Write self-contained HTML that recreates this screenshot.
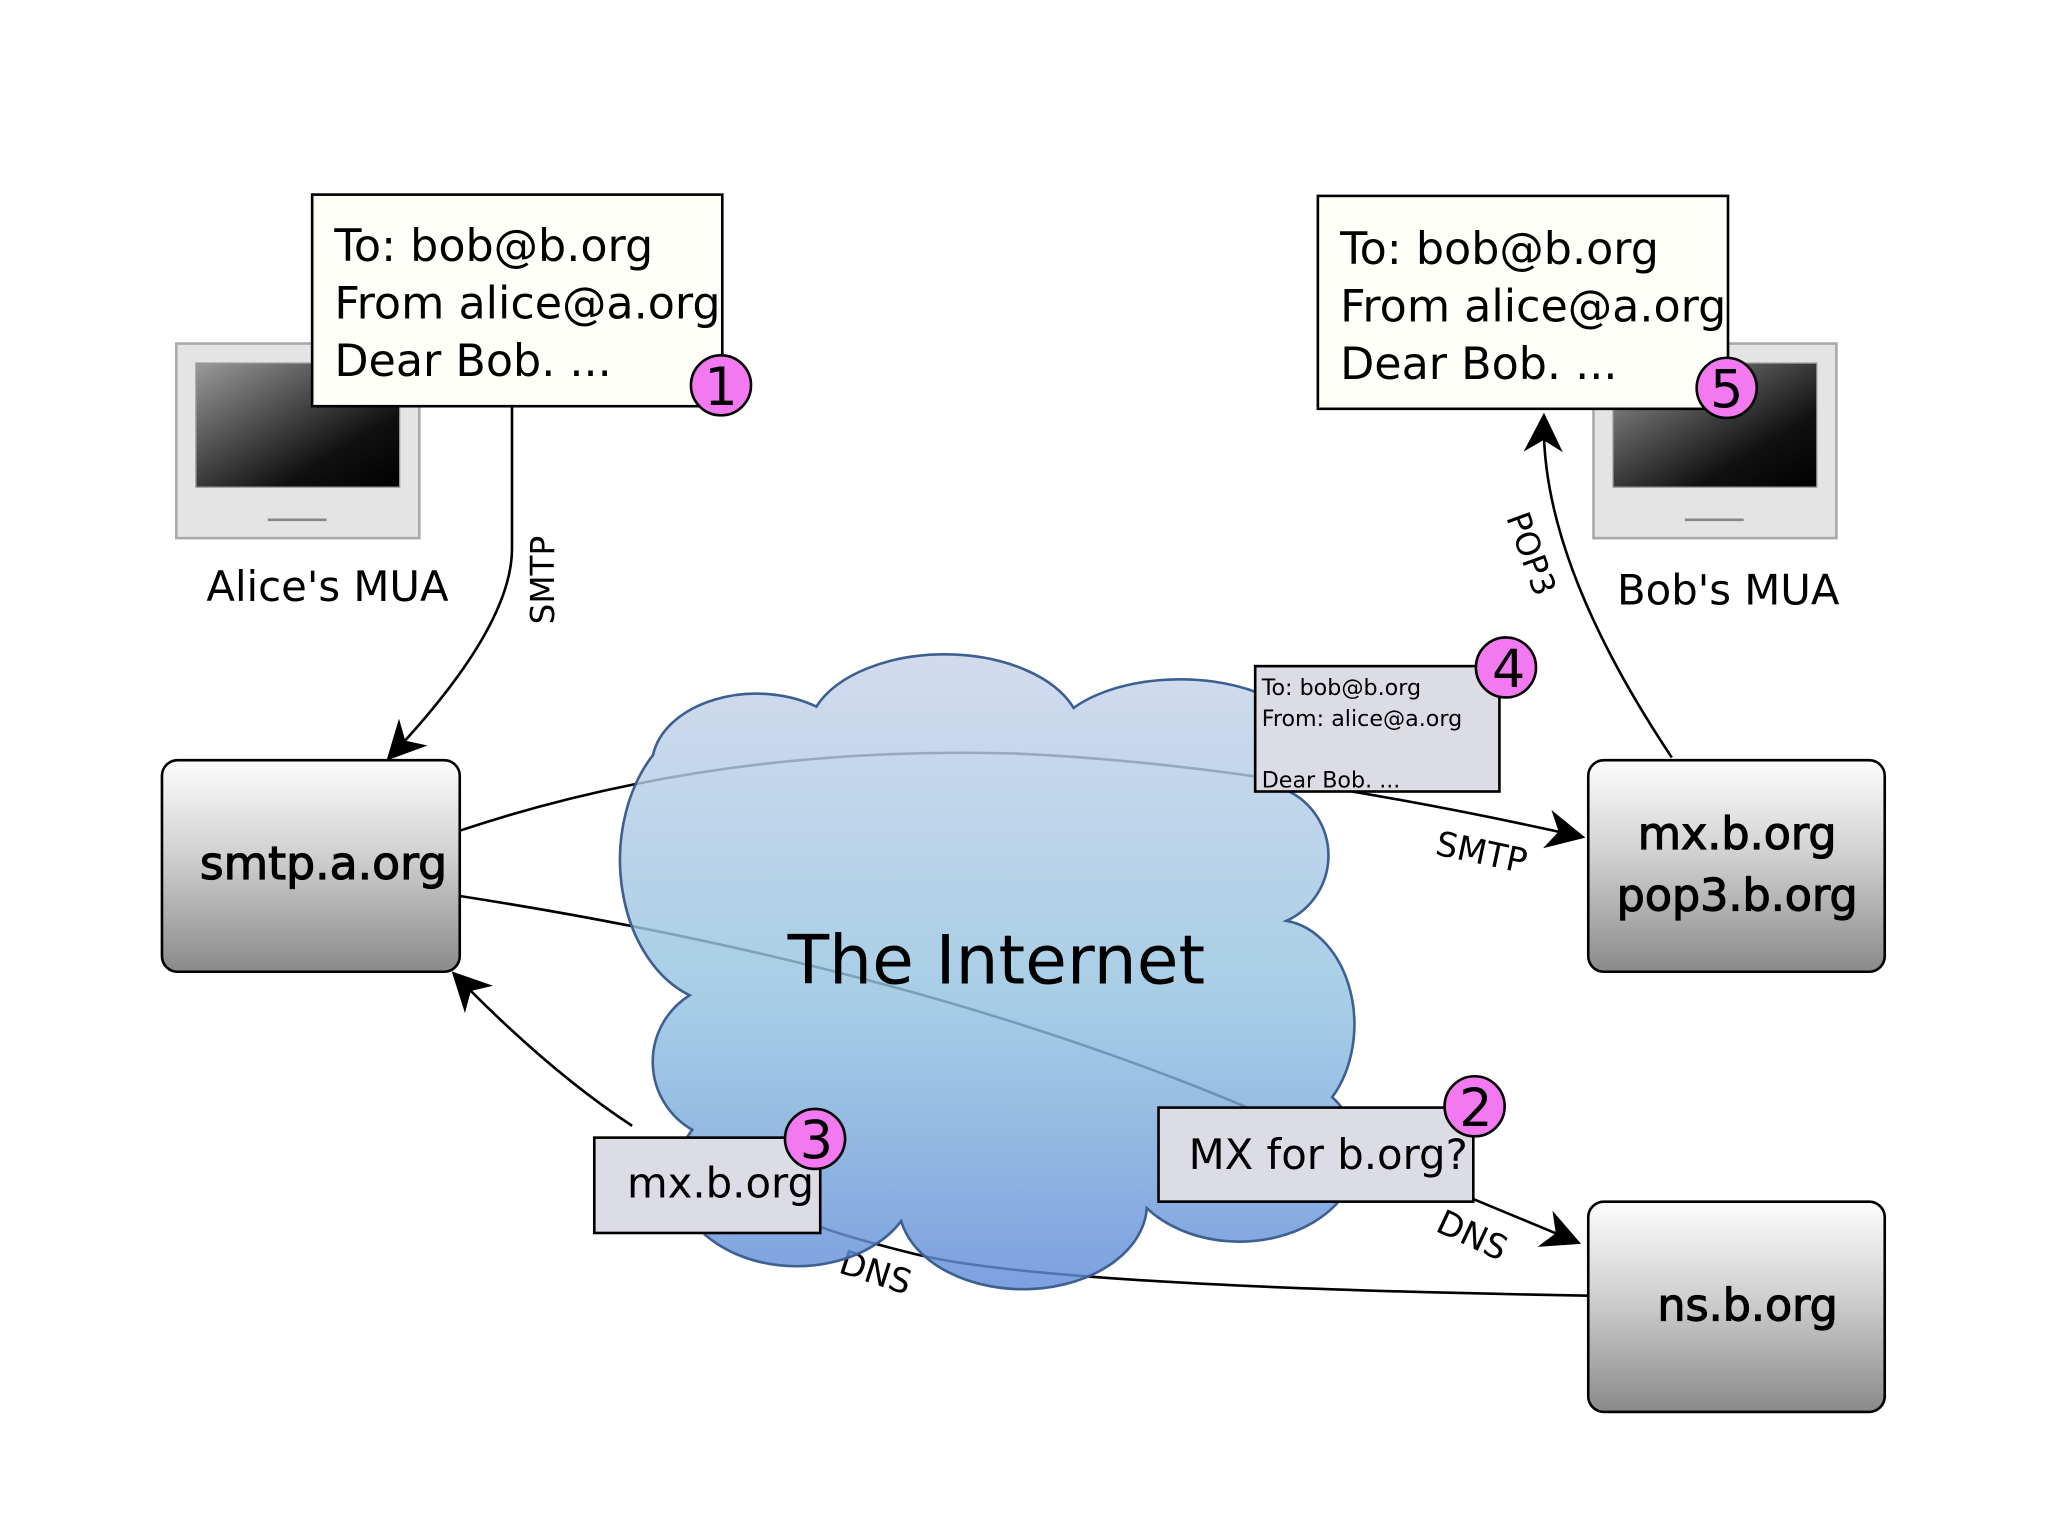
<!DOCTYPE html>
<html><head><meta charset="utf-8"><style>
html,body{margin:0;padding:0;background:#fff;}
svg{display:block;}
text{font-family:"DejaVu Sans","Liberation Sans",sans-serif;fill:#000;}
.sb{stroke:#000;stroke-width:0.9;}
</style></head><body>
<svg width="2048" height="1536" viewBox="0 0 1568 1176" xmlns="http://www.w3.org/2000/svg">
<defs>
<linearGradient id="scr" x1="0" y1="0" x2="1" y2="1"><stop offset="0" stop-color="#9a9a9a"/><stop offset="0.7" stop-color="#111"/><stop offset="1" stop-color="#000"/></linearGradient>
<linearGradient id="box" x1="0" y1="0" x2="0" y2="1"><stop offset="0" stop-color="#fdfdfd"/><stop offset="0.45" stop-color="#d0d0d0"/><stop offset="1" stop-color="#8a8a8a"/></linearGradient>
<linearGradient id="cloud" x1="0" y1="0" x2="0" y2="1"><stop offset="0" stop-color="#c9d3ea"/><stop offset="0.55" stop-color="#93c3e0"/><stop offset="1" stop-color="#5f8cd8"/></linearGradient>
<marker id="arB" viewBox="0 0 10 10" refX="8" refY="5" markerWidth="30" markerHeight="30" orient="auto" markerUnits="userSpaceOnUse"><path d="M0,0 L10,5 L0,10 L3,5 z" fill="#000"/></marker>
</defs>

<rect x="135" y="263" width="186" height="149" fill="#e4e4e4" stroke="#aaa" stroke-width="2"/>
<rect x="150" y="278" width="156" height="95" fill="url(#scr)" stroke="#999"/>
<line x1="205" y1="398" x2="250" y2="398" stroke="#888" stroke-width="2"/>
<rect x="1220" y="263" width="186" height="149" fill="#e4e4e4" stroke="#aaa" stroke-width="2"/>
<rect x="1235" y="278" width="156" height="95" fill="url(#scr)" stroke="#999"/>
<line x1="1290" y1="398" x2="1335" y2="398" stroke="#888" stroke-width="2"/>

<text x="158" y="460" font-size="32">Alice's MUA</text>
<text x="1238" y="463" font-size="32">Bob's MUA</text>

<path d="M392,311 L392,420 Q392,480 300,578" fill="none" stroke="#000" stroke-width="2" marker-end="url(#arB)"/>
<text transform="translate(424,478) rotate(-90)" font-size="25">SMTP</text>
<path d="M1280,580 Q1180,430 1182,322" fill="none" stroke="#000" stroke-width="2" marker-end="url(#arB)"/>
<text transform="translate(1153,396) rotate(70)" font-size="25">POP3</text>
<path d="M352,636 Q550,570 780,577 Q960,585 1208,640" fill="none" stroke="#000" stroke-width="2" marker-end="url(#arB)"/>
<text transform="translate(1098,654) rotate(12)" font-size="26">SMTP</text>
<path d="M352,686 Q700,740 960,850" fill="none" stroke="#000" stroke-width="2"/>
<path d="M1128,918 L1205,950" fill="none" stroke="#000" stroke-width="2" marker-end="url(#arB)"/>
<text transform="translate(1098,942) rotate(25)" font-size="26">DNS</text>
<path d="M1216,992 Q800,985 700,960 Q600,935 620,930" fill="none" stroke="#000" stroke-width="2"/>
<path d="M484,862 Q420,820 350,748" fill="none" stroke="#000" stroke-width="2" marker-end="url(#arB)"/>
<text transform="translate(641,974) rotate(18)" font-size="26">DNS</text>

<path d="M625,541 A105,62 0 0 1 822,542 A85,45 0 0 1 985,605 A55,55 0 0 1 985,705 A60,80 0 0 1 1020,840 A80,60 0 0 1 878,925 A95,65 0 0 1 690,935 A80,60 0 0 1 530,865 A60,60 0 0 1 528,762 A80,110 0 0 1 500,578 A80,55 0 0 1 625,541 Z" fill="url(#cloud)" fill-opacity="0.82" stroke="#3d5f91" stroke-width="2"/>
<text x="603" y="753" font-size="52">The Internet</text>

<rect x="124" y="582" width="228" height="162" rx="12" fill="url(#box)" stroke="#000" stroke-width="2"/>
<text class="sb" x="153" y="673" font-size="35">smtp.a.org</text>
<rect x="1216" y="582" width="227" height="162" rx="12" fill="url(#box)" stroke="#000" stroke-width="2"/>
<text class="sb" x="1330" y="650" font-size="34" text-anchor="middle">mx.b.org</text>
<text class="sb" x="1330" y="697" font-size="34" text-anchor="middle">pop3.b.org</text>
<rect x="1216" y="920" width="227" height="161" rx="12" fill="url(#box)" stroke="#000" stroke-width="2"/>
<text class="sb" x="1338" y="1011" font-size="34" text-anchor="middle">ns.b.org</text>

<rect x="239" y="149" width="314" height="162" fill="#fffffa" stroke="#000" stroke-width="2"/>
<text x="256" y="200" font-size="34">To: bob@b.org</text>
<text x="256" y="244" font-size="34">From alice@a.org</text>
<text x="256" y="288" font-size="34">Dear Bob. ...</text>
<rect x="1009" y="150" width="314" height="163" fill="#fffffa" stroke="#000" stroke-width="2"/>
<text x="1026" y="202" font-size="34">To: bob@b.org</text>
<text x="1026" y="246" font-size="34">From alice@a.org</text>
<text x="1026" y="290" font-size="34">Dear Bob. ...</text>
<rect x="961" y="510" width="187" height="96" fill="#dcdce4" stroke="#000" stroke-width="2"/>
<text x="966" y="532" font-size="17">To: bob@b.org</text>
<text x="966" y="556" font-size="17">From: alice@a.org</text>
<text x="966" y="603" font-size="17">Dear Bob. ...</text>
<rect x="887" y="848" width="241" height="72" fill="#dcdce4" stroke="#000" stroke-width="2"/>
<text x="910" y="895" font-size="32">MX for b.org?</text>
<rect x="455" y="871" width="173" height="73" fill="#dcdce4" stroke="#000" stroke-width="2"/>
<text x="480" y="917" font-size="32">mx.b.org</text>

<g stroke="#000" stroke-width="2" fill="#f279f0">
<circle cx="552" cy="295" r="23"/><circle cx="1322" cy="297" r="23"/>
<circle cx="1153" cy="511" r="23"/><circle cx="1129" cy="847" r="23"/>
<circle cx="624" cy="872" r="23"/>
</g>
<g font-size="40" text-anchor="middle">
<text x="552" y="310">1</text><text x="1322" y="312">5</text>
<text x="1155" y="526">4</text><text x="1130" y="862">2</text>
<text x="625" y="887">3</text>
</g>
</svg>
</body></html>
